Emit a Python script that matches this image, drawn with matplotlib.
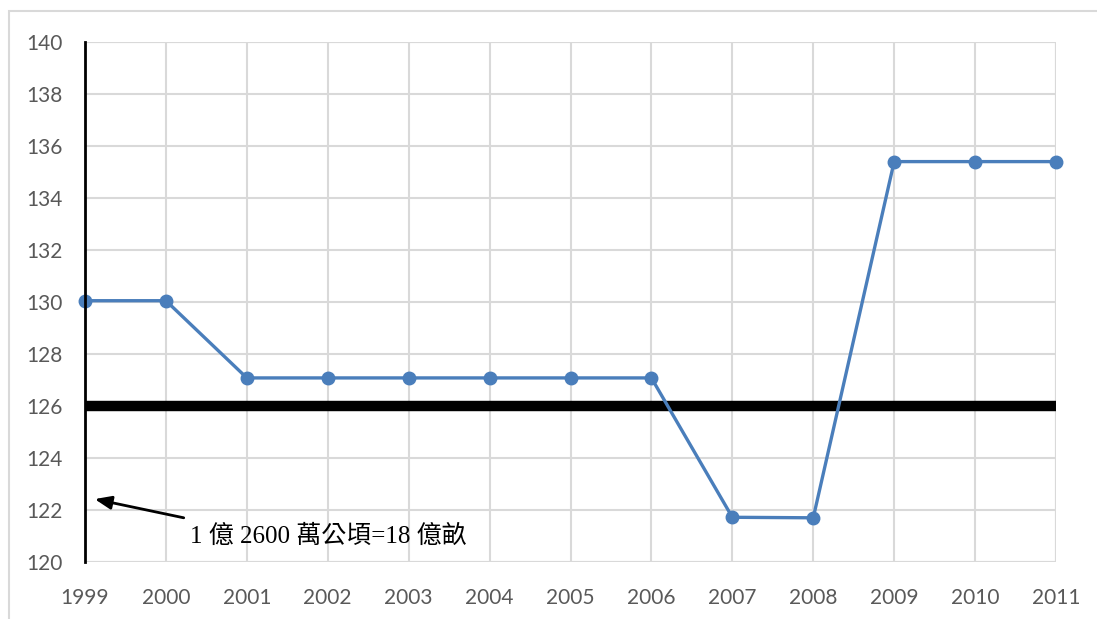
import matplotlib.pyplot as plt
from matplotlib.patches import Rectangle

# data
years = [1999, 2000, 2001, 2002, 2003, 2004, 2005, 2006, 2007, 2008, 2009, 2010, 2011]
area = [130.05, 130.05, 127.08, 127.08, 127.08, 127.08, 127.08, 127.08,
        121.72, 121.70, 135.40, 135.40, 135.40]
redline = 126
yticks = list(range(120, 141, 2))
note = "1 億 2600 萬公頃=18 億畝"

fig = plt.figure(figsize=(10.97, 6.19), dpi=100)
ax = fig.add_axes([85/1097, 1-562/619, (1056-85)/1097, (562-42)/619])

# outer light frame
fig.patches.append(Rectangle((9/1097, -0.01), 1.0, 1-11/619+0.01, transform=fig.transFigure,
                             fill=False, edgecolor='#d9d9d9', linewidth=1.5))

ax.plot(years, area, color='#4a7ebb', linewidth=2.4, marker='o', markersize=9,
        clip_on=False, zorder=4)
ax.axhline(redline, color='black', linewidth=7.5, zorder=3)

ax.set_xlim(1999, 2011)
ax.set_ylim(120, 140)
ax.set_xticks(years)
ax.set_yticks(yticks)
ax.grid(True, color='#d9d9d9', linewidth=1.5, zorder=0)
ax.set_axisbelow(True)
for s in ['top', 'right', 'bottom']:
    ax.spines[s].set_visible(False)
ax.spines['left'].set_linewidth(2)
ax.spines['left'].set_color('black')
ax.spines['left'].set_zorder(5)

# extra gridlines at the edges so the frame is closed
ax.axhline(120, color='#d9d9d9', linewidth=1.5, zorder=0)
ax.axhline(140, color='#d9d9d9', linewidth=1.5, zorder=0)
ax.axvline(2011, color='#d9d9d9', linewidth=1.5, zorder=0)

ax.tick_params(length=0, labelsize=15, labelcolor='#595959')
ax.tick_params(axis='y', pad=16)
ax.tick_params(axis='x', pad=19)
for lab in ax.get_xticklabels() + ax.get_yticklabels():
    lab.set_family('Lato')

# arrow and label
ax.annotate('', xy=(1999.12, 122.42), xytext=(2000.22, 121.7),
            arrowprops=dict(arrowstyle='-|>,head_length=1.0,head_width=0.4',
                            color='black', linewidth=2,
                            shrinkA=0, shrinkB=0), zorder=6)
ax.text(2000.3, 120.98, note, fontsize=18, va='center', ha='left',
        family=['Liberation Serif', 'Noto Sans CJK TC'], zorder=6)

fig.savefig('out.png', dpi=100)
